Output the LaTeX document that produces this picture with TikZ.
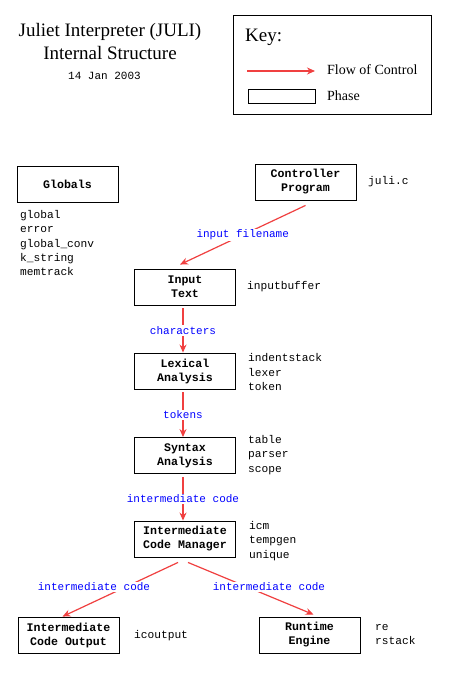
\documentclass[tikz,border=0pt]{standalone}
\usepackage{fontspec}
\setmainfont{Liberation Serif}
\setmonofont{Liberation Mono}
\usetikzlibrary{arrows.meta}
\definecolor{flow}{RGB}{240,64,64}
\definecolor{lbl}{RGB}{0,0,255}
\begin{document}
\begin{tikzpicture}[x=1pt,y=-1pt,
  phase/.style={draw=black,line width=0.9pt,minimum width=101pt,minimum height=36pt,inner sep=0pt,align=center,font=\fontsize{11.6}{14}\selectfont\ttfamily\bfseries},
  side/.style={anchor=west,inner sep=0pt,align=left,font=\fontsize{11.2}{14.3}\selectfont\ttfamily},
  flowarrow/.style={draw=flow,line width=1.2pt,-{Stealth[length=8pt,width=7pt]}},
  edgelbl/.style={fill=white,inner sep=1pt,text=lbl,font=\fontsize{11}{13}\selectfont\ttfamily}]
\useasboundingbox (0,0) rectangle (448,676);
\fill[white] (0,0) rectangle (448,676);

% title
\node (title) at (110,42) [align=center,inner sep=0pt,font=\fontsize{19}{23}\selectfont] {Juliet Interpreter (JULI)\\Internal Structure};
\node (date) at (104.5,76) [inner sep=0pt,font=\fontsize{11}{13}\selectfont\ttfamily] {14 Jan 2003};

% key
\node (keybox) at (332,64.5) [draw=black,line width=0.9pt,minimum width=198pt,minimum height=99pt,inner sep=0pt] {};
\node (keytitle) at (245,42) [anchor=base west,inner sep=0pt,font=\fontsize{19}{23}\selectfont] {Key:};
\coordinate (ka) at (247,71);
\coordinate (kb) at (315,71);
\draw[flowarrow] (ka) -- (kb);
\node (kflow) at (327,75) [anchor=base west,inner sep=0pt,font=\fontsize{14}{16}\selectfont] {Flow of Control};
\node (kphase) at (282,96) [draw=black,line width=0.9pt,minimum width=67pt,minimum height=14pt,inner sep=0pt] {};
\node (kphaset) at (327,101) [anchor=base west,inner sep=0pt,font=\fontsize{14}{16}\selectfont] {Phase};

% phases
\node[phase] (glob) at (67.5,184) {Globals};
\node[phase] (ctrl) at (305.5,182) {Controller\\Program};
\node[phase] (input) at (185,287) {Input\\Text};
\node[phase] (lex) at (185,371) {Lexical\\Analysis};
\node[phase] (syn) at (185,455.5) {Syntax\\Analysis};
\node[phase] (icm) at (185,539) {Intermediate\\Code Manager};
\node[phase] (ico) at (68.5,635) {Intermediate\\Code Output};
\node[phase] (rt) at (309.5,635) {Runtime\\Engine};

% side texts
\node[side] (globt) at (20,243) {global\\error\\global\_conv\\k\_string\\memtrack};
\node[side] (ctrlt) at (368,182) {juli.c};
\node[side] (inputt) at (247,287) {inputbuffer};
\node[side] (lext) at (248,372) {indentstack\\lexer\\token};
\node[side] (synt) at (248,455) {table\\parser\\scope};
\node[side] (icmt) at (249,541) {icm\\tempgen\\unique};
\node[side] (icot) at (134,636) {icoutput};
\node[side] (rtt) at (375,634.5) {re\\rstack};

% flows
\draw[flowarrow] ([yshift=-5pt]ctrl.south) -- ([xshift=-5pt,yshift=4pt]input.north)
  node[edgelbl,midway] (l1) {input filename};
\draw[flowarrow] ([xshift=-2pt,yshift=-3pt]input.south) -- ([xshift=-2pt]lex.north)
  node[edgelbl,midway] (l2) {characters};
\draw[flowarrow] ([xshift=-2pt,yshift=-3pt]lex.south) -- ([xshift=-2pt]syn.north)
  node[edgelbl,midway] (l3) {tokens};
\draw[flowarrow] ([xshift=-2pt,yshift=-3pt]syn.south) -- ([xshift=-2pt]icm.north)
  node[edgelbl,midway] (l4) {intermediate code};
\draw[flowarrow] ([xshift=-7pt,yshift=-5pt]icm.south) -- ([xshift=-6pt]ico.north);
\node[edgelbl] (l5) at (94,587) {intermediate code};
\draw[flowarrow] ([xshift=3pt,yshift=-5pt]icm.south) -- ([xshift=4pt,yshift=2pt]rt.north);
\node[edgelbl] (l6) at (269,587) {intermediate code};
\end{tikzpicture}
\end{document}
